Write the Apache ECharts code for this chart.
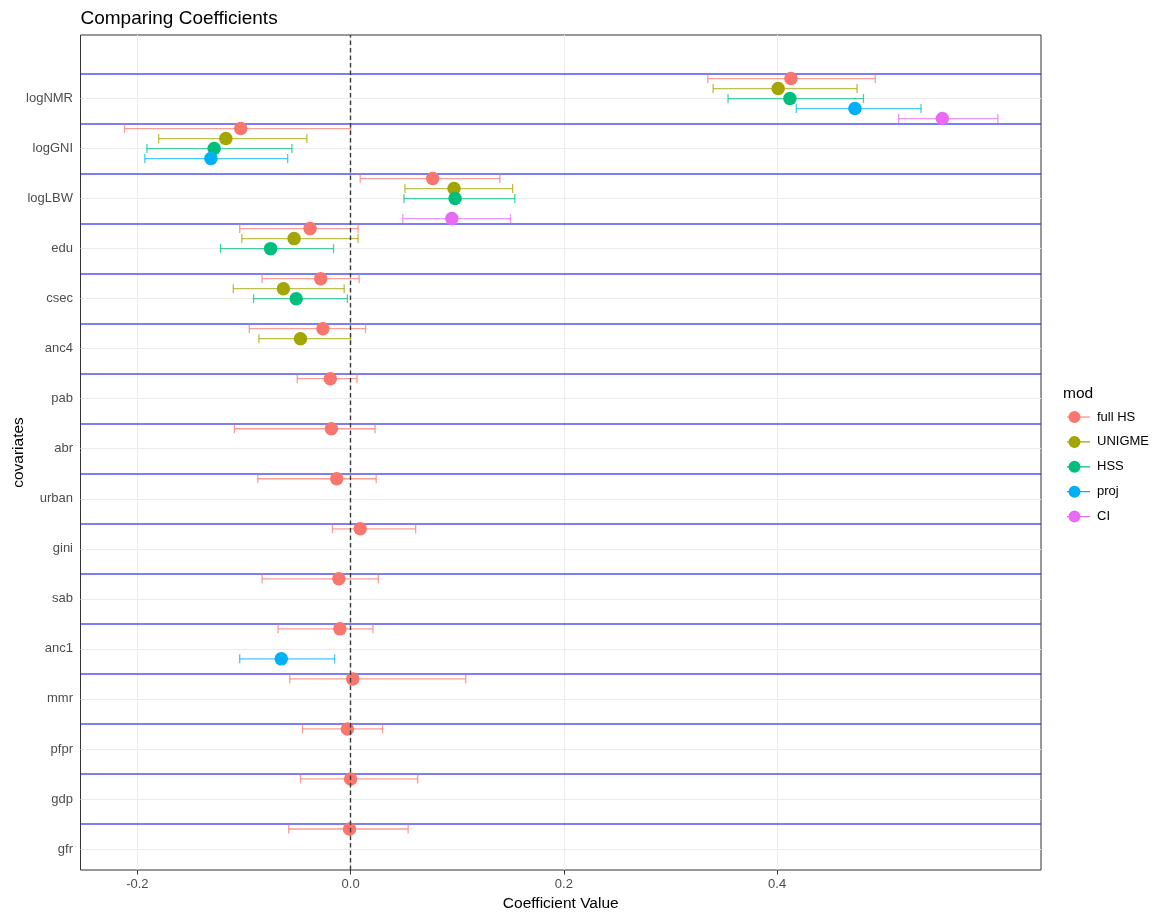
<!DOCTYPE html>
<html>
<head>
<meta charset="utf-8">
<script src="https://cdn.jsdelivr.net/npm/echarts@6/dist/echarts.min.js"></script>
<style>
  html, body { margin: 0; padding: 0; background: #fff; }
  #chart { width: 1158px; height: 915px; }
</style>
</head>
<body>
<div id="chart"></div>
<script>
// Covariates, top to bottom
const covariates = ['logNMR', 'logGNI', 'logLBW', 'edu', 'csec', 'anc4', 'pab', 'abr',
  'urban', 'gini', 'sab', 'anc1', 'mmr', 'pfpr', 'gdp', 'gfr'];

const models = ['full HS', 'UNIGME', 'HSS', 'proj', 'CI'];
const modelColors = ['#F8766D', '#A3A500', '#00BF7D', '#00B0F6', '#E76BF3'];

const xTicks = [-0.2, 0.0, 0.2, 0.4];

// Estimates and interval bounds per model (null = covariate not in model)
const fullHS_est = [0.413, -0.103, 0.077, -0.038, -0.028, -0.026, -0.019, -0.018, -0.013, 0.009, -0.011, -0.010, 0.002, -0.003, 0.000, -0.001];
const fullHS_lo  = [0.335, -0.212, 0.009, -0.104, -0.083, -0.095, -0.050, -0.109, -0.087, -0.017, -0.083, -0.068, -0.057, -0.045, -0.047, -0.058];
const fullHS_hi  = [0.492, 0.000, 0.140, 0.007, 0.008, 0.014, 0.006, 0.023, 0.024, 0.061, 0.026, 0.021, 0.108, 0.030, 0.063, 0.054];

const unigme_est = [0.401, -0.117, 0.097, -0.053, -0.063, -0.047, null, null, null, null, null, null, null, null, null, null];
const unigme_lo  = [0.340, -0.180, 0.051, -0.102, -0.110, -0.086, null, null, null, null, null, null, null, null, null, null];
const unigme_hi  = [0.475, -0.041, 0.152, 0.007, -0.006, 0.000, null, null, null, null, null, null, null, null, null, null];

const hss_est = [0.412, -0.128, 0.098, -0.075, -0.051, null, null, null, null, null, null, null, null, null, null, null];
const hss_lo  = [0.354, -0.191, 0.050, -0.122, -0.091, null, null, null, null, null, null, null, null, null, null, null];
const hss_hi  = [0.481, -0.055, 0.154, -0.016, -0.003, null, null, null, null, null, null, null, null, null, null, null];

const proj_est = [0.473, -0.131, null, null, null, null, null, null, null, null, null, -0.065, null, null, null, null];
const proj_lo  = [0.418, -0.193, null, null, null, null, null, null, null, null, null, -0.104, null, null, null, null];
const proj_hi  = [0.535, -0.059, null, null, null, null, null, null, null, null, null, -0.015, null, null, null, null];

const ci_est = [0.555, null, 0.095, null, null, null, null, null, null, null, null, null, null, null, null, null];
const ci_lo  = [0.514, null, 0.049, null, null, null, null, null, null, null, null, null, null, null, null, null];
const ci_hi  = [0.607, null, 0.150, null, null, null, null, null, null, null, null, null, null, null, null, null];

const modelEst = [fullHS_est, unigme_est, hss_est, proj_est, ci_est];
const modelLo  = [fullHS_lo, unigme_lo, hss_lo, proj_lo, ci_lo];
const modelHi  = [fullHS_hi, unigme_hi, hss_hi, proj_hi, ci_hi];

// vertical dodge of each model inside a covariate row
const dodge = [0.4, 0.2, 0, -0.2, -0.4];

const nCov = covariates.length;
const rowPos = i => nCov - i;   // logNMR at top (16), gfr at bottom (1)

const font = 'Liberation Sans, Arial, sans-serif';
const legendIcon = 'path://M0,5.4L23,5.4L23,6.6L0,6.6Z M1.5,6A6,6 0 1,1 13.5,6A6,6 0 1,1 1.5,6Z';

const series = [];

// light background grid
series.push({
  type: 'scatter', name: 'gridlines', data: [], silent: true, z: 1,
  markLine: {
    silent: true, symbol: 'none', animation: false, z: 1,
    label: { show: false },
    lineStyle: { color: '#ebebeb', width: 1, type: 'solid' },
    data: xTicks.map(v => ({ xAxis: v }))
      .concat(covariates.map((c, i) => ({ yAxis: rowPos(i) })))
  }
});

// separators between covariate rows
series.push({
  type: 'scatter', name: 'separators', data: [], silent: true, z: 2,
  markLine: {
    silent: true, symbol: 'none', animation: false, z: 2,
    label: { show: false },
    lineStyle: { color: 'rgba(40,40,240,0.8)', width: 1.5, type: 'solid' },
    data: covariates.map((c, i) => ({ yAxis: rowPos(i) + 0.5 }))
  }
});

models.forEach((m, k) => {
  const bars = [];
  const pts = [];
  covariates.forEach((c, i) => {
    if (modelEst[k][i] === null) return;
    const y = rowPos(i) + dodge[k];
    bars.push([modelLo[k][i], modelHi[k][i], y]);
    pts.push([modelEst[k][i], y]);
  });

  series.push({
    type: 'custom', name: m, z: 3, silent: true,
    encode: { x: [0, 1], y: 2 },
    data: bars,
    renderItem: function (params, api) {
      const a = api.coord([api.value(0), api.value(2)]);
      const b = api.coord([api.value(1), api.value(2)]);
      const h = 4.5;
      const style = { stroke: modelColors[k], lineWidth: 1.3, opacity: 0.7 };
      return {
        type: 'group',
        children: [
          { type: 'line', shape: { x1: a[0], y1: a[1], x2: b[0], y2: b[1] }, style: style },
          { type: 'line', shape: { x1: a[0], y1: a[1] - h, x2: a[0], y2: a[1] + h }, style: style },
          { type: 'line', shape: { x1: b[0], y1: b[1] - h, x2: b[0], y2: b[1] + h }, style: style }
        ]
      };
    }
  });

  series.push({
    type: 'scatter', name: m, z: 4,
    data: pts,
    symbol: 'circle', symbolSize: 13.5,
    itemStyle: { color: modelColors[k], opacity: 1 },
    emphasis: { disabled: true }
  });
});

// zero reference line
series.push({
  type: 'scatter', name: 'zero', data: [], silent: true, z: 6,
  markLine: {
    silent: true, symbol: 'none', animation: false, z: 6,
    label: { show: false },
    lineStyle: { color: '#3a3a3a', width: 1.4, type: [4.5, 3] },
    data: [{ xAxis: 0 }]
  }
});

const option = {
  animation: false,
  backgroundColor: '#ffffff',
  title: [
    {
      text: 'Comparing Coefficients', left: 80.5, top: 9.5, padding: 0,
      textStyle: { fontFamily: font, fontSize: 19, fontWeight: 'normal', color: '#000' }
    },
    {
      text: 'mod', left: 1063, top: 386, padding: 0,
      textStyle: { fontFamily: font, fontSize: 15.5, fontWeight: 'normal', color: '#000' }
    }
  ],
  legend: {
    orient: 'vertical', left: 1067, top: 410.5, padding: 0,
    itemWidth: 23, itemHeight: 12, itemGap: 11.9,
    selectedMode: false,
    textStyle: { fontFamily: font, fontSize: 13, color: '#000', padding: [0, 0, 0, 2] },
    data: models.map((m, k) => ({
      name: m, icon: legendIcon, itemStyle: { color: modelColors[k], opacity: 1 }
    }))
  },
  grid: {
    left: 80.5, right: 117, top: 35, bottom: 45,
    outerBoundsMode: 'none',
    show: true, borderColor: '#333333', borderWidth: 1, backgroundColor: '#fff'
  },
  xAxis: {
    type: 'value', min: -0.2533, max: 0.6475,
    name: 'Coefficient Value', nameLocation: 'middle', nameGap: 26,
    nameMoveOverlap: false,
    nameTextStyle: { fontFamily: font, fontSize: 15.5, color: '#000' },
    axisLine: { show: false },
    axisTick: { show: true, length: 4.5, lineStyle: { color: '#333' }, customValues: xTicks },
    axisLabel: {
      customValues: xTicks, margin: 7.5,
      fontFamily: font, fontSize: 13, color: '#4d4d4d',
      formatter: v => v.toFixed(1)
    },
    splitLine: { show: false }
  },
  yAxis: {
    type: 'value', min: 0.58, max: 17.27,
    name: 'covariates', nameLocation: 'middle', nameGap: 54,
    nameMoveOverlap: false,
    nameTextStyle: { fontFamily: font, fontSize: 15.5, color: '#000' },
    axisLine: { show: false },
    axisTick: { show: true, length: 4.5, lineStyle: { color: '#333' },
      customValues: covariates.map((c, i) => rowPos(i)) },
    axisLabel: {
      customValues: covariates.map((c, i) => rowPos(i)), margin: 7.5,
      fontFamily: font, fontSize: 13, color: '#4d4d4d',
      formatter: v => covariates[nCov - Math.round(v)] || ''
    },
    splitLine: { show: false }
  },
  series: series
};

const chart = echarts.init(document.getElementById('chart'), null, { renderer: 'canvas' });
chart.setOption(option);
</script>
</body>
</html>
